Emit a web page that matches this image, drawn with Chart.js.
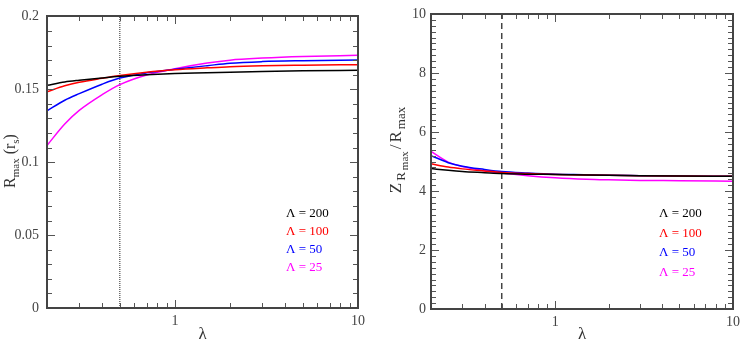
<!DOCTYPE html>
<html>
<head>
<meta charset="utf-8">
<script src="https://cdn.jsdelivr.net/npm/chart.js@4/dist/chart.umd.min.js"></script>
<style>
html, body { margin: 0; padding: 0; background: #fff; }
#wrap { display: flex; width: 748px; height: 347px; }
canvas { display: block; }
</style>
</head>
<body>
<div id="wrap">
  <canvas id="left" width="374" height="347"></canvas>
  <canvas id="right" width="374" height="347"></canvas>
</div>
<script>
// lambda values (x axis, log)
const lambda = [0.2, 0.25, 0.3, 0.4, 0.5, 0.7, 1, 1.5, 2, 3, 5, 10];

// left panel: R_max (r_s)
const rmax200 = [0.1527, 0.1550, 0.1562, 0.1578, 0.1589, 0.1600, 0.1608, 0.1613, 0.1617, 0.1622, 0.1627, 0.1631];
const rmax100 = [0.1483, 0.1524, 0.1548, 0.1575, 0.1594, 0.1617, 0.1634, 0.1647, 0.1655, 0.1661, 0.1665, 0.1669];
const rmax50  = [0.1352, 0.1425, 0.1470, 0.1535, 0.1577, 0.1613, 0.1637, 0.1662, 0.1679, 0.1690, 0.1696, 0.1701];
const rmax25  = [0.1115, 0.1262, 0.1355, 0.1463, 0.1532, 0.1598, 0.1641, 0.1680, 0.1700, 0.1714, 0.1725, 0.1733];

// right panel: Z_Rmax / R_max
const zr200 = [4.76, 4.70, 4.66, 4.62, 4.59, 4.57, 4.56, 4.54, 4.53, 4.52, 4.51, 4.50];
const zr100 = [4.92, 4.81, 4.75, 4.68, 4.63, 4.59, 4.56, 4.54, 4.53, 4.52, 4.51, 4.50];
const zr50  = [5.20, 4.96, 4.84, 4.73, 4.66, 4.61, 4.57, 4.55, 4.53, 4.52, 4.51, 4.50];
const zr25  = [5.34, 4.98, 4.83, 4.69, 4.61, 4.52, 4.45, 4.40, 4.38, 4.36, 4.35, 4.33];

const seriesLabels = ['Λ = 200', 'Λ = 100', 'Λ = 50', 'Λ = 25'];
const lambdaCut = 0.5;

// tick labels
const xMajorTicks = [1, 10];
const xMinorTicks = [0.2, 0.3, 0.4, 0.5, 0.6, 0.7, 0.8, 0.9, 2, 3, 4, 5, 6, 7, 8, 9];
const rmaxTicks = [0, 0.05, 0.1, 0.15, 0.2];
const zrTicks = [0, 2, 4, 6, 8, 10];

const colors = ['#000000', '#ff0000', '#0000ff', '#ff00ff'];
const SERIF = '"Liberation Serif", "DejaVu Serif", serif';

const pts = (ys) => lambda.map((x, i) => ({x: x, y: ys[i]}));

// frame, inward ticks on all sides, legend text and y title
function decorations(c) {
    return {
        id: 'decor',
        afterDraw(chart) {
            const {ctx, chartArea: a, scales: {x, y}} = chart;
            const L = Math.round(a.left), R = Math.round(a.right);
            const T = Math.round(a.top), B = Math.round(a.bottom);
            ctx.save();
            ctx.fillStyle = '#555';
            // ticks along x (bottom and top)
            const xt = (v, len) => {
                const p = Math.round(x.getPixelForValue(v));
                ctx.fillRect(p, B - len, 1, len);
                ctx.fillRect(p, T, 1, len);
            };
            xMajorTicks.forEach(v => xt(v, 8));
            xMinorTicks.forEach(v => xt(v, 5));
            // ticks along y (left and right)
            const yt = (v, len) => {
                const p = Math.round(y.getPixelForValue(v));
                ctx.fillRect(L, p, len, 1);
                ctx.fillRect(R - len, p, len, 1);
            };
            const n = Math.round((c.yTicks[c.yTicks.length - 1] - c.yTicks[0]) / c.yMinor);
            for (let i = 0; i <= n; i++) yt(c.yTicks[0] + i * c.yMinor, 5);
            c.yTicks.forEach(v => yt(v, 8));
            // frame
            ctx.fillStyle = '#444';
            ctx.fillRect(L - 1, T - 1, R - L + 2, 2);
            ctx.fillRect(L - 1, B - 1, R - L + 2, 2);
            ctx.fillRect(L - 1, T - 1, 2, B - T + 2);
            ctx.fillRect(R - 1, T - 1, 2, B - T + 2);

            // legend
            ctx.font = '13px ' + SERIF;
            ctx.textBaseline = 'middle';
            ctx.textAlign = 'left';
            chart.data.datasets.filter(d => d.label).forEach((d, i) => {
                ctx.fillStyle = d.borderColor;
                ctx.fillText(d.label, a.right - c.legendDx, 214 + i * c.legendGap);
            });

            // y title
            const gap = c.titleGap || 0;
            let w = 0;
            c.title.forEach(p => { ctx.font = p.size + 'px ' + SERIF; w += ctx.measureText(p.t).width + gap; });
            w -= gap;
            ctx.translate(c.titleX, c.titleY);
            ctx.rotate(-Math.PI / 2);
            ctx.fillStyle = '#333';
            ctx.textBaseline = 'alphabetic';
            let cx = -w / 2;
            c.title.forEach(p => {
                ctx.font = p.size + 'px ' + SERIF;
                ctx.fillText(p.t, cx, 5 + (p.dy || 0));
                cx += ctx.measureText(p.t).width + gap;
            });
            ctx.restore();
        }
    };
}

function makeChart(id, c) {
    const datasets = c.series.map((s, i) => ({
        label: seriesLabels[i],
        data: pts(s),
        borderColor: colors[i],
        borderWidth: 1.5,
        pointRadius: 0,
        cubicInterpolationMode: 'monotone',
        fill: false
    }));
    datasets.push({
        label: '',
        data: [{x: lambdaCut, y: c.yTicks[0]}, {x: lambdaCut, y: c.yTicks[c.yTicks.length - 1]}],
        borderColor: c.cutColor,
        borderWidth: c.cutWidth,
        borderDash: c.cutDash,
        pointRadius: 0
    });
    return new Chart(document.getElementById(id), {
        type: 'line',
        data: {datasets: datasets},
        plugins: [decorations(c)],
        options: {
            responsive: false,
            animation: false,
            layout: {padding: {top: 14, right: c.padRight, left: 0, bottom: 0}},
            scales: {
                x: {
                    type: 'logarithmic',
                    min: 0.2, max: 10,
                    grid: {display: false, drawTicks: false},
                    border: {display: false},
                    afterBuildTicks: s => { s.ticks = xMajorTicks.map(v => ({value: v})); },
                    afterFit: s => { s.height = c.xHeight; },
                    ticks: {
                        padding: 5,
                        color: '#444',
                        font: {family: SERIF, size: 14},
                        maxRotation: 0,
                        callback: v => String(v)
                    },
                    title: {
                        display: true, text: 'λ', color: '#333',
                        font: {family: SERIF, size: 17},
                        padding: {top: 0, bottom: 2}
                    }
                },
                y: {
                    type: 'linear',
                    min: c.yTicks[0], max: c.yTicks[c.yTicks.length - 1],
                    grid: {display: false, drawTicks: false},
                    border: {display: false},
                    afterBuildTicks: s => { s.ticks = c.yTicks.map(v => ({value: v})); },
                    afterFit: s => { s.width = c.yWidth; },
                    ticks: {
                        padding: c.yPad,
                        color: '#444',
                        font: {family: SERIF, size: 14},
                        callback: v => String(v)
                    }
                }
            },
            plugins: {
                legend: {display: false},
                tooltip: {enabled: false}
            }
        }
    });
}

makeChart('left', {
    series: [rmax200, rmax100, rmax50, rmax25],
    yTicks: rmaxTicks, yMinor: 0.01,
    yWidth: 47, yPad: 8, padRight: 16, xHeight: 39,
    cutColor: '#222', cutWidth: 1, cutDash: [1, 1],
    legendDx: 72, legendGap: 18,
    titleX: 10, titleY: 161,
    title: [
        {t: 'R', size: 16},
        {t: 'max', size: 11, dy: 4},
        {t: ' (r', size: 16},
        {t: 's', size: 11, dy: 4},
        {t: ')', size: 16}
    ]
});

makeChart('right', {
    series: [zr200, zr100, zr50, zr25],
    yTicks: zrTicks, yMinor: 0.2,
    yWidth: 57, yPad: 5, padRight: 15, xHeight: 38,
    cutColor: '#444', cutWidth: 1.5, cutDash: [6, 4],
    legendDx: 74, legendGap: 19.5,
    titleX: 22, titleY: 150,
    titleGap: 2,
    title: [
        {t: 'Z', size: 17},
        {t: 'R', size: 13, dy: 4},
        {t: 'max', size: 11, dy: 7},
        {t: '/', size: 17},
        {t: 'R', size: 17},
        {t: 'max', size: 13, dy: 4}
    ]
});
</script>
</body>
</html>
